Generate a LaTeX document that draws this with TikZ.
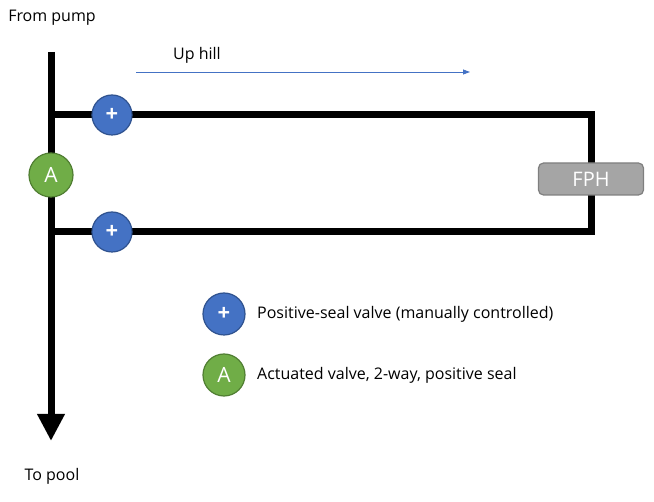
\documentclass[tikz,border=0pt]{standalone}
\usepackage{fontspec}
\setmainfont{Open Sans}
\usetikzlibrary{arrows.meta}
\definecolor{vblue}{HTML}{4472C4}
\definecolor{vblueb}{HTML}{2F528F}
\definecolor{vgreen}{HTML}{70AD47}
\definecolor{vgreenb}{HTML}{507E32}
\definecolor{fphgray}{HTML}{A5A5A5}
\definecolor{fphline}{HTML}{7F7F7F}

\tikzset{pipe/.style={line width=7pt, black},
         posvalve/.style={circle, draw=vblueb, fill=vblue, line width=1.2pt,
                          minimum size=40pt, inner sep=0pt, text=white, font=\fontsize{22}{22}\selectfont\bfseries},
         actvalve/.style={circle, draw=vgreenb, fill=vgreen, line width=1.2pt,
                          minimum size=44pt, inner sep=0pt, text=white, font=\fontsize{21}{21}\selectfont},
         label/.style={font=\fontsize{16}{16}\selectfont, inner sep=0pt}}

\begin{document}
\begin{tikzpicture}[x=1pt, y=-1pt]
\useasboundingbox (0,0) rectangle (654,502);

% main pipe
\coordinate (pump) at (51,52);
\coordinate (pool) at (51,441);
\coordinate (tl) at (51,115);
\coordinate (bl) at (51,232);
\coordinate (tr) at (591,115);
\coordinate (br) at (591,232);

\draw[pipe] (tl) -- ([xshift=3.5pt]tr.center);
\draw[pipe] (bl) -- ([xshift=3.5pt]br.center);
\draw[pipe] (tr) -- (br);
\draw[pipe, -{Triangle[length=27pt, width=26pt]}] (pump) -- (pool);

% valves
\node[posvalve] (vtop) at (112,115) {+};
\node[posvalve] (vbot) at (112,232) {+};
\node[actvalve] (va) at (51,175) {A};
\node[rounded corners=5pt, draw=fphline, fill=fphgray, line width=1.2pt,
      minimum width=105pt, minimum height=32pt, text=white,
      font=\fontsize{20}{20}\selectfont] (fph) at (591,179) {FPH};

% up hill
\coordinate (hilla) at (136,72);
\coordinate (hillb) at (470,72);
\draw[vblue, line width=0.8pt, -{Triangle[length=7pt, width=5pt]}] (hilla) -- (hillb);
\node[label] (uphill) at (197,55) {Up hill};

\node[label] (from) at (52,18) {From pump};
\node[label] (to) at (52,476) {To pool};

% legend
\node[posvalve, minimum size=42pt] (lgp) at (224,314) {+};
\node[actvalve, minimum size=42pt] (lga) at (224,375) {A};
\node[label, anchor=west] (lgptext) at (257,314) {Positive-seal valve (manually controlled)};
\node[label, anchor=west] (lgatext) at (257,375) {Actuated valve, 2-way, positive seal};
\end{tikzpicture}
\end{document}
